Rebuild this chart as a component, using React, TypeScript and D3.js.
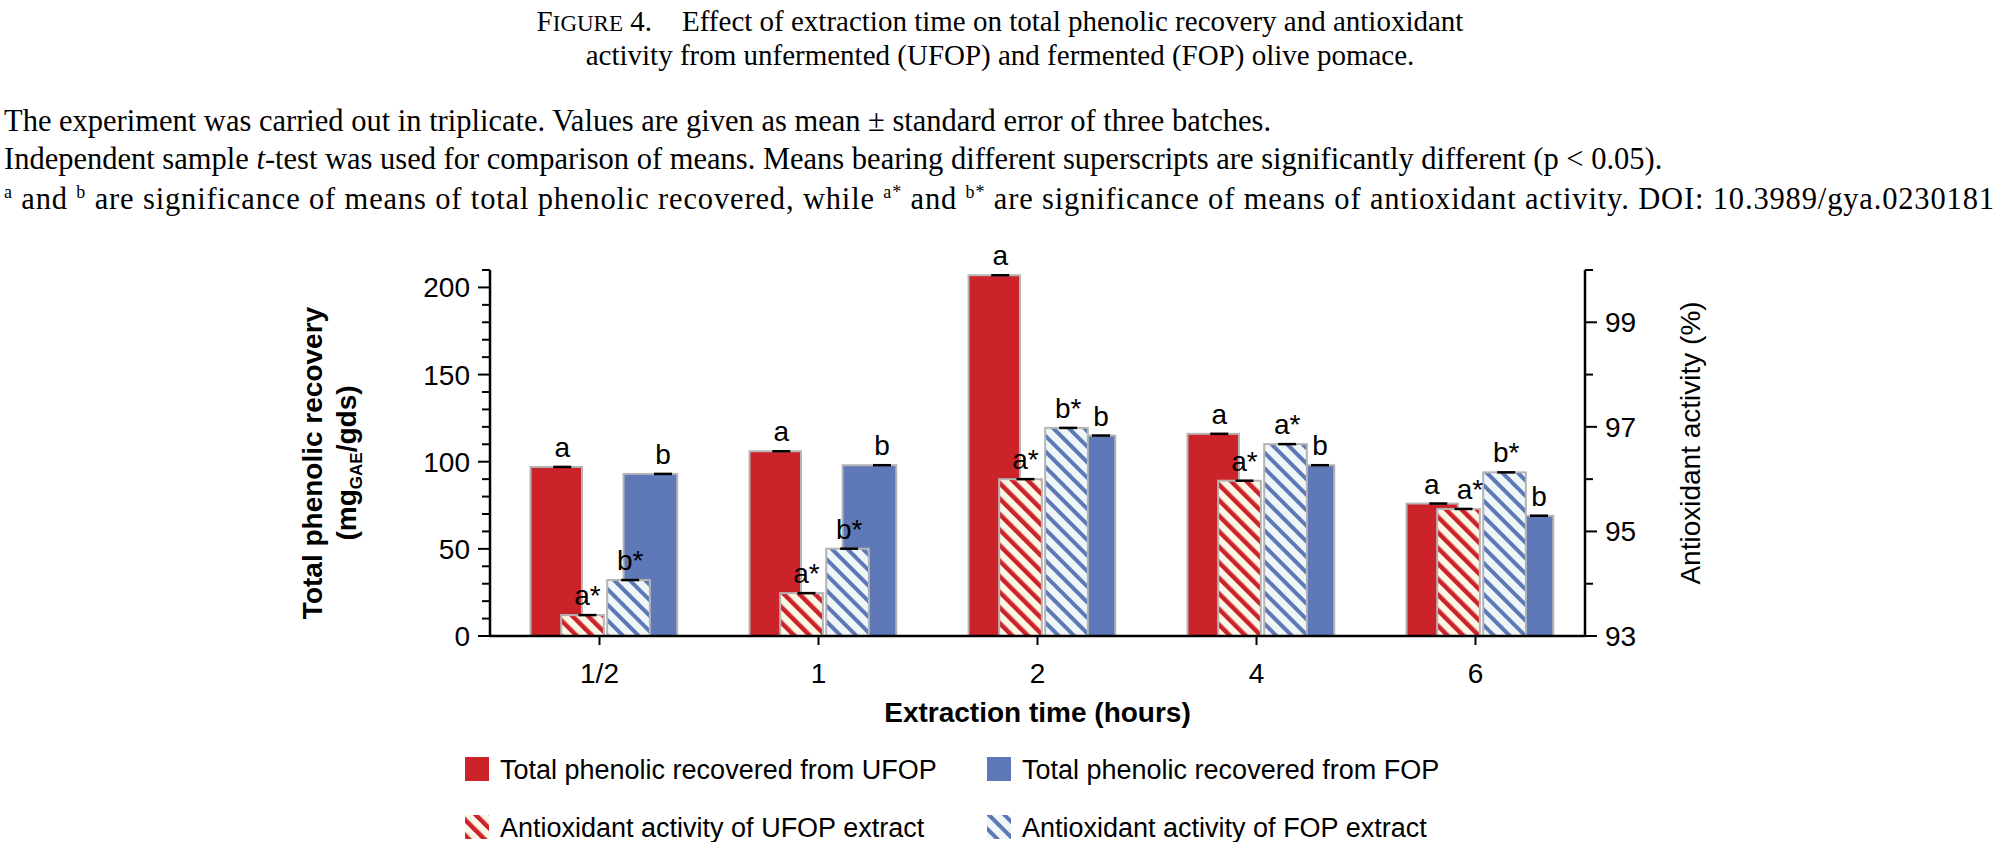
import React from "react";
import * as d3 from "d3";

const categories = ["1/2", "1", "2", "4", "6"];
const phenolUFOP = [97, 106, 207, 116, 76];
const phenolFOP = [93, 98, 115, 98, 69];
const antiUFOP = [93.4, 93.82, 96.0, 95.97, 95.43];
const antiFOP = [94.07, 94.67, 96.98, 96.67, 96.13];
const lblPhenolUFOP = ["a", "a", "a", "a", "a"];
const lblPhenolFOP = ["b", "b", "b", "b", "b"];
const lblAntiUFOP = ["a*", "a*", "a*", "a*", "a*"];
const lblAntiFOP = ["b*", "b*", "b*", "a*", "b*"];
const leftTicks = [0, 50, 100, 150, 200];
const rightTicks = [93, 95, 97, 99];

const RED = "#cc2229";
const BLUE = "#5f78b8";

export default function App() {
  const L = 490, R = 1585, T = 270, B = 636;
  const x = d3.scaleBand<string>().domain(categories).range([L, R]).paddingInner(0).paddingOuter(0);
  const yL = d3.scaleLinear().domain([0, 210]).range([B, T]);
  const yR = d3.scaleLinear().domain([93, 100]).range([B, T]);
  const s = x.step();
  const cx = (c: string) => (x(c) as number) + s / 2;
  const minorL = d3.range(0, 211, 10);
  const minorR = d3.range(93, 100.01, 1);
  const serif = "'Liberation Serif', 'DejaVu Serif', serif";
  const sans = "'Liberation Sans', Arial, sans-serif";

  const bar = (c: string, a: number, b: number, top: number, fill: string, key: string) => (
    <rect key={key} x={cx(c) + a * s} width={(b - a) * s} y={top} height={B - top}
      fill={fill} stroke="#b5b5b5" strokeWidth={2} />
  );
  const cap = (c: string, off: number, yv: number, lbl: string, key: string, loff = 0) => (
    <g key={key}>
      <line x1={cx(c) + off * s - 9} x2={cx(c) + off * s + 9} y1={yv} y2={yv} stroke="#000" strokeWidth={2.5} />
      <text x={cx(c) + (off + loff) * s} y={yv - 10} textAnchor="middle" fontFamily={sans} fontSize={28}>{lbl}</text>
    </g>
  );

  return (
    <svg width={1996} height={842} style={{ position: "absolute", left: 0, top: 0, background: "#fff" }}>
      <defs>
        <pattern id="hr" patternUnits="userSpaceOnUse" width={11} height={11} patternTransform="rotate(-45)">
          <rect width={11} height={11} fill="#fbf6e6" />
          <rect width={4.5} height={11} fill={RED} />
        </pattern>
        <pattern id="hb" patternUnits="userSpaceOnUse" width={11} height={11} patternTransform="rotate(-45)">
          <rect width={11} height={11} fill="#eef6f8" />
          <rect width={4} height={11} fill={BLUE} />
        </pattern>
      </defs>

      <g fontFamily={serif} fill="#000">
        <text x={1000} y={31} textAnchor="middle" fontSize={29}>
          <tspan>F</tspan><tspan fontSize={23}>IGURE</tspan><tspan> 4.</tspan>
          <tspan dx={30}>Effect of extraction time on total phenolic recovery and antioxidant</tspan>
        </text>
        <text x={1000} y={65} textAnchor="middle" fontSize={29}>activity from unfermented (UFOP) and fermented (FOP) olive pomace.</text>
        <text x={4} y={131} fontSize={30.5}>The experiment was carried out in triplicate. Values are given as mean ± standard error of three batches.</text>
        <text x={4} y={169} fontSize={30.5}>Independent sample <tspan fontStyle="italic">t</tspan>-test was used for comparison of means. Means bearing different superscripts are significantly different (p &lt; 0.05).</text>
        <text x={4} y={209} fontSize={30.5} textLength={1990} lengthAdjust="spacing">
          <tspan fontSize={18} dy={-11}>a</tspan><tspan dy={11}> and </tspan><tspan fontSize={18} dy={-11}>b</tspan><tspan dy={11}> are significance of means of total phenolic recovered, while </tspan>
          <tspan fontSize={18} dy={-11}>a*</tspan><tspan dy={11}> and </tspan><tspan fontSize={18} dy={-11}>b*</tspan><tspan dy={11}> are significance of means of antioxidant activity. DOI: 10.3989/gya.0230181</tspan>
        </text>
      </g>

      {categories.map((c, i) => (
        <g key={c}>
          {bar(c, -0.315, -0.08, yL(phenolUFOP[i]), RED, "ru")}
          {bar(c, 0.11, 0.355, yL(phenolFOP[i]), BLUE, "bf")}
          {bar(c, -0.175, 0.02, yR(antiUFOP[i]), "url(#hr)", "ra")}
          {bar(c, 0.035, 0.23, yR(antiFOP[i]), "url(#hb)", "ba")}
        </g>
      ))}
      {categories.map((c, i) => (
        <g key={"l" + c}>
          {cap(c, -0.17, yL(phenolUFOP[i]), lblPhenolUFOP[i], "a", i === 4 ? -0.03 : 0)}
          {cap(c, 0.29, yL(phenolFOP[i]), lblPhenolFOP[i], "b")}
          {cap(c, -0.055, yR(antiUFOP[i]), lblAntiUFOP[i], "c", i === 4 ? 0.03 : 0)}
          {cap(c, 0.14, yR(antiFOP[i]), lblAntiFOP[i], "d")}
        </g>
      ))}

      <g stroke="#000" strokeWidth={2.5}>
        <line x1={L} x2={L} y1={T} y2={B} />
        <line x1={R} x2={R} y1={T} y2={B} />
        <line x1={L} x2={R} y1={B} y2={B} />
        {minorL.map(v => <line key={"ml" + v} x1={L} x2={L - (v % 50 === 0 ? 12 : 8)} y1={yL(v)} y2={yL(v)} strokeWidth={2} />)}
        {minorR.map(v => <line key={"mr" + v} x1={R} x2={R + (v % 2 === 1 ? 12 : 8)} y1={yR(v)} y2={yR(v)} strokeWidth={2} />)}
        {categories.map(c => <line key={"xt" + c} x1={cx(c)} x2={cx(c)} y1={B} y2={B + 9} strokeWidth={2} />)}
      </g>
      <g fontFamily={sans} fontSize={28}>
        {leftTicks.map(v => <text key={"lt" + v} x={L - 20} y={yL(v) + 10} textAnchor="end">{v}</text>)}
        {rightTicks.map(v => <text key={"rt" + v} x={R + 20} y={yR(v) + 10}>{v}</text>)}
        {categories.map(c => <text key={"xl" + c} x={cx(c)} y={683} textAnchor="middle">{c}</text>)}
        <text x={(L + R) / 2} y={722} textAnchor="middle" fontWeight="bold">Extraction time (hours)</text>
        <text transform={`translate(322,${(T + B) / 2 + 10}) rotate(-90)`} textAnchor="middle" fontWeight="bold">Total phenolic recovery</text>
        <text transform={`translate(356,${(T + B) / 2 + 10}) rotate(-90)`} textAnchor="middle" fontWeight="bold">
          (mg<tspan fontSize={17} dy={6}>GAE</tspan><tspan dy={-6}>/gds)</tspan>
        </text>
        <text transform={`translate(1700,${(T + B) / 2 - 10}) rotate(-90)`} textAnchor="middle">Antioxidant activity (%)</text>
      </g>

      <g fontFamily={sans} fontSize={27}>
        <rect x={465} y={757} width={24} height={24} fill={RED} />
        <text x={500} y={779}>Total phenolic recovered from UFOP</text>
        <rect x={987} y={757} width={24} height={24} fill={BLUE} />
        <text x={1022} y={779}>Total phenolic recovered from FOP</text>
        <rect x={465} y={815} width={24} height={24} fill="url(#hr)" />
        <text x={500} y={837}>Antioxidant activity of UFOP extract</text>
        <rect x={987} y={815} width={24} height={24} fill="url(#hb)" />
        <text x={1022} y={837}>Antioxidant activity of FOP extract</text>
      </g>
    </svg>
  );
}
